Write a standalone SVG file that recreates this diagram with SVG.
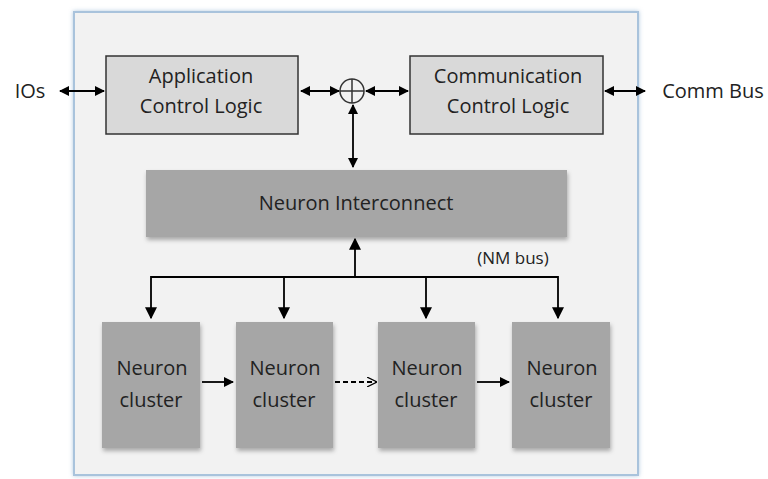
<svg xmlns="http://www.w3.org/2000/svg" width="768" height="479" viewBox="0 0 768 479">
<defs>
<filter id="sh" x="-10%" y="-10%" width="130%" height="130%"><feDropShadow dx="1" dy="3" stdDeviation="2" flood-color="#000" flood-opacity="0.3"/></filter>
<filter id="osh" x="-5%" y="-5%" width="110%" height="110%"><feDropShadow dx="0" dy="0" stdDeviation="2" flood-color="#7fa6cc" flood-opacity="0.6"/></filter>
<marker id="ah" viewBox="0 0 10 10" refX="9" refY="5" markerWidth="10" markerHeight="10" markerUnits="userSpaceOnUse" orient="auto-start-reverse"><path d="M0,0 L10,5 L0,10 z" fill="#000"/></marker>
<marker id="ahb" viewBox="0 0 10 10" refX="9" refY="5" markerWidth="12" markerHeight="12" markerUnits="userSpaceOnUse" orient="auto-start-reverse"><path d="M0,0 L10,5 L0,10 z" fill="#000"/></marker>
<marker id="aho" viewBox="0 0 10 10" refX="9" refY="5" markerWidth="10" markerHeight="10" markerUnits="userSpaceOnUse" orient="auto"><path d="M0,0 L10,5 L0,10" fill="none" stroke="#000" stroke-width="1.2"/></marker>
</defs>
<style>
text{font-family:"Open Sans","Liberation Sans",sans-serif;font-size:20px;fill:#222;text-anchor:middle}
.lt{fill:#d9d9d9;stroke:#333;stroke-width:1.5}
.dk{fill:#a6a6a6}
.c{stroke:#000;stroke-width:1.8;fill:none}
</style>
<rect x="0" y="0" width="768" height="479" fill="#fff"/>
<rect x="74" y="12" width="564" height="463" fill="#f2f2f2" stroke="#a9c3dc" stroke-width="2" filter="url(#osh)"/>
<g id="acl"><rect class="lt" x="106" y="56" width="192" height="78"/><text x="201" y="83">Application</text><text x="201" y="113">Control Logic</text></g>
<g id="ccl"><rect class="lt" x="410" y="56" width="193" height="78"/><text x="508" y="83">Communication</text><text x="508" y="113">Control Logic</text></g>
<g id="xor"><circle cx="352" cy="91" r="12" fill="none" stroke="#333" stroke-width="1.5"/><line x1="340" y1="91" x2="364" y2="91" stroke="#333" stroke-width="1.5"/><line x1="352" y1="79" x2="352" y2="103" stroke="#333" stroke-width="1.5"/></g>
<g id="ios"><text x="30" y="98">IOs</text></g>
<g id="commbus"><text x="713" y="98">Comm Bus</text></g>
<g id="ni"><rect class="dk" x="146" y="170" width="421" height="67" filter="url(#sh)"/><text x="356" y="210">Neuron Interconnect</text></g>
<g id="nmbus"><text x="513" y="264" style="font-size:17px">(NM bus)</text></g>
<g id="nc1"><rect class="dk" x="102" y="322" width="98" height="126" filter="url(#sh)"/><text x="152" y="375">Neuron</text><text x="151" y="407">cluster</text></g>
<g id="nc2"><rect class="dk" x="236" y="322" width="97" height="126" filter="url(#sh)"/><text x="285" y="375">Neuron</text><text x="284" y="407">cluster</text></g>
<g id="nc3"><rect class="dk" x="378" y="322" width="97" height="126" filter="url(#sh)"/><text x="427" y="375">Neuron</text><text x="426" y="407">cluster</text></g>
<g id="nc4"><rect class="dk" x="512" y="322" width="98" height="126" filter="url(#sh)"/><text x="562" y="375">Neuron</text><text x="561" y="407">cluster</text></g>
<g id="connectors">
<line class="c" x1="60" y1="91" x2="104" y2="91" marker-start="url(#ah)" marker-end="url(#ah)"/>
<line class="c" x1="301" y1="91" x2="339" y2="91" marker-start="url(#ah)" marker-end="url(#ah)"/>
<line class="c" x1="366" y1="91" x2="408" y2="91" marker-start="url(#ah)" marker-end="url(#ah)"/>
<line class="c" x1="605" y1="91" x2="645" y2="91" marker-start="url(#ah)" marker-end="url(#ah)"/>
<line class="c" x1="353" y1="105" x2="353" y2="167" stroke-width="1.5" marker-start="url(#ah)" marker-end="url(#ah)"/>
<line class="c" x1="355" y1="278" x2="355" y2="239" stroke-width="4" marker-end="url(#ahb)"/>
<polyline class="c" points="151,318 151,277 558,277 558,318" stroke-width="2.5" marker-start="url(#ahb)" marker-end="url(#ahb)"/>
<line class="c" x1="284" y1="277" x2="284" y2="318" stroke-width="2.5" marker-end="url(#ahb)"/>
<line class="c" x1="426" y1="277" x2="426" y2="318" stroke-width="2.5" marker-end="url(#ahb)"/>
<line class="c" x1="202" y1="382" x2="233" y2="382" marker-end="url(#ah)"/>
<line class="c" x1="335" y1="382" x2="376" y2="382" stroke-width="1.3" stroke-dasharray="5,3" marker-end="url(#aho)"/>
<line class="c" x1="477" y1="382" x2="509" y2="382" marker-end="url(#ah)"/>
</g>
</svg>
